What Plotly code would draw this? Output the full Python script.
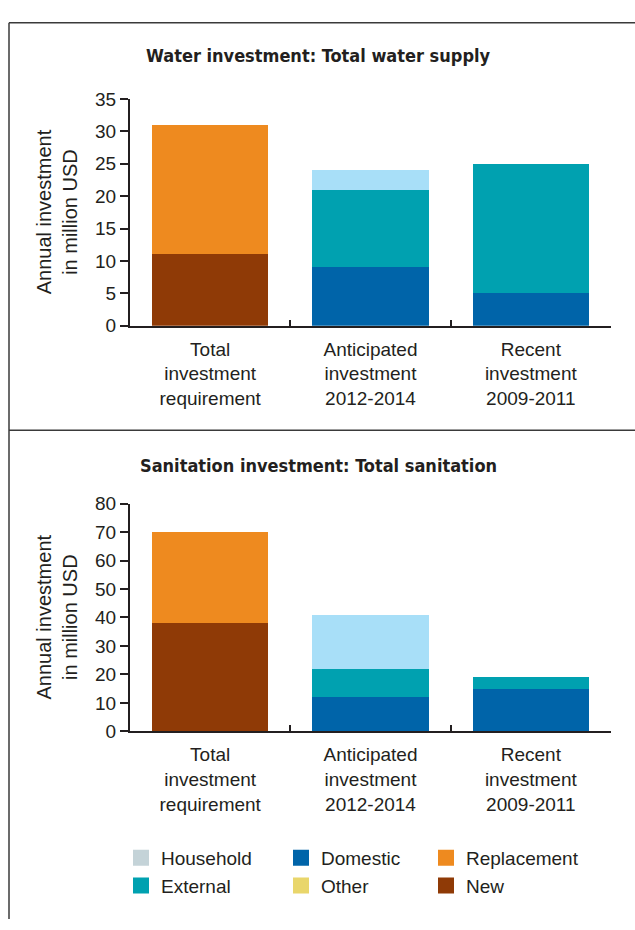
import plotly.graph_objects as go

# ---------------- data ----------------
categories = ["Total<br>investment<br>requirement",
              "Anticipated<br>investment<br>2012-2014",
              "Recent<br>investment<br>2009-2011"]
series_names = ["New", "Replacement", "Domestic", "External", "Household", "Other"]

water_new = [11, 0, 0]
water_replacement = [20, 0, 0]
water_domestic = [0, 9, 5]
water_external = [0, 12, 20]
water_household = [0, 3, 0]
water_other = [0, 0, 0]

san_new = [38, 0, 0]
san_replacement = [32, 0, 0]
san_domestic = [0, 12, 15]
san_external = [0, 10, 4]
san_household = [0, 19, 0]
san_other = [0, 0, 0]

water_ticks = [0, 5, 10, 15, 20, 25, 30, 35]
san_ticks = [0, 10, 20, 30, 40, 50, 60, 70, 80]

legend_order = ["Household", "External", "Domestic", "Other", "Replacement", "New"]

# ---------------- styles ----------------
W, H = 635, 930
TXT = "#231f20"
FONT = "Liberation Sans, Arial, sans-serif"
TITLE_FONT = "Liberation Sans Narrow, DejaVu Sans Condensed, Liberation Sans, sans-serif"
bar_colors = {"New": "#8f3a06", "Replacement": "#ee8a1f", "Domestic": "#0064a9",
              "External": "#00a1b0", "Household": "#a8dff8", "Other": "#e9d66b"}
legend_colors = {"New": "#8f3a06", "Replacement": "#ee8a1f", "Domestic": "#0064a9",
                 "External": "#00a1b0", "Household": "#c4d3d8", "Other": "#e9d66b"}

water = dict(zip(series_names, [water_new, water_replacement, water_domestic,
                                water_external, water_household, water_other]))
san = dict(zip(series_names, [san_new, san_replacement, san_domestic,
                              san_external, san_household, san_other]))

fig = go.Figure()
for ax, data in (("", water), ("2", san)):
    for name in series_names:
        fig.add_trace(go.Bar(x=categories, y=data[name], name=name,
                             marker=dict(color=bar_colors[name], line=dict(width=0)),
                             width=0.725, showlegend=False, hoverinfo="skip",
                             xaxis="x" + ax, yaxis="y" + ax))

legend_ids = ["legend", "legend", "legend2", "legend2", "legend3", "legend3"]
for name, lid in zip(legend_order, legend_ids):
    fig.add_trace(go.Scatter(x=[None], y=[None], mode="markers", name=name,
                             marker=dict(symbol="square", size=16, color=legend_colors[name]),
                             legend=lid, legendgroup=name))

def px_x(v):
    return v / W

def px_y(v):
    return 1 - v / H

xdom = [px_x(130), px_x(611)]
axis_common = dict(showline=True, linecolor=TXT, linewidth=2, showgrid=False,
                   zeroline=False, tickfont=dict(family=FONT, size=19, color=TXT))
xaxis_common = dict(axis_common, domain=xdom, range=[-0.5, 2.5], ticks="inside",
                    tickson="boundaries", ticklen=6, tickwidth=2, tickcolor=TXT,
                    ticklabelstandoff=5)

fig.update_layout(
    width=W, height=H, margin=dict(l=0, r=0, t=0, b=0),
    paper_bgcolor="white", plot_bgcolor="white", barmode="stack",
    xaxis=dict(xaxis_common, anchor="y"),
    yaxis=dict(axis_common, domain=[px_y(323), px_y(91)], anchor="x",
               range=[0, 35], tickvals=water_ticks, ticks="outside", ticklen=8,
               tickwidth=2, tickcolor=TXT),
    xaxis2=dict(xaxis_common, anchor="y2"),
    yaxis2=dict(axis_common, domain=[px_y(738), px_y(505)], anchor="x2",
                range=[0, 80], tickvals=san_ticks, ticks="outside", ticklen=8,
                tickwidth=2, tickcolor=TXT),
    font=dict(family=FONT, color=TXT),
)

leg_common = dict(orientation="v", yanchor="top", y=px_y(848), xanchor="left",
                  bgcolor="rgba(0,0,0,0)", font=dict(family=FONT, size=19, color=TXT),
                  tracegroupgap=0, itemsizing="trace")
fig.update_layout(legend=dict(leg_common, x=px_x(121)),
                  legend2=dict(leg_common, x=px_x(281)),
                  legend3=dict(leg_common, x=px_x(426)))

# titles
for text, y in (("Water investment: Total water supply", 47),
                ("Sanitation investment: Total sanitation", 466)):
    fig.add_annotation(text="<b>" + text + "</b>", x=px_x(319), y=px_y(y),
                       xref="paper", yref="paper", showarrow=False,
                       xanchor="center", yanchor="middle",
                       font=dict(family=TITLE_FONT, size=18, color=TXT))

# y-axis titles
for yc in ((91 + 323) / 2, (505 + 738) / 2):
    fig.add_annotation(text="Annual investment<br>in million USD", x=px_x(57), y=px_y(yc),
                       xref="paper", yref="paper", showarrow=False, textangle=-90,
                       xanchor="center", yanchor="middle",
                       font=dict(family=FONT, size=20, color=TXT))

# frame lines
line_style = dict(color="#3a3a3a", width=1.5)
fig.add_shape(type="line", xref="paper", yref="paper", x0=px_x(9), x1=1,
              y0=px_y(13), y1=px_y(13), line=line_style)
fig.add_shape(type="line", xref="paper", yref="paper", x0=px_x(9), x1=px_x(9),
              y0=px_y(13), y1=0, line=line_style)
fig.add_shape(type="line", xref="paper", yref="paper", x0=px_x(9), x1=1,
              y0=px_y(430), y1=px_y(430), line=line_style)

page_css = ("var s=document.createElement('style');"
            "s.textContent='html,body{margin:0!important;padding:0!important;"
            "overflow:hidden!important;}';"
            "document.head.appendChild(s);")
fig.write_html("out.html", config={"displayModeBar": False}, post_script=page_css)
